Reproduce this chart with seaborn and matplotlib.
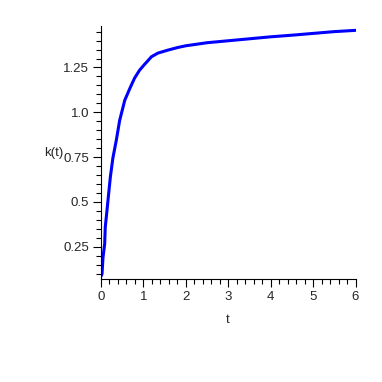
import matplotlib
matplotlib.use("Agg")
import matplotlib.pyplot as plt
import seaborn as sns
import pandas as pd
from matplotlib.ticker import MultipleLocator, FixedLocator

t_vals = [0, 0.024, 0.047, 0.087, 0.10, 0.14, 0.18, 0.22, 0.28, 0.36, 0.44, 0.56,
          0.68, 0.79, 0.91, 1.0, 1.19, 1.34, 1.58, 1.82, 2.0, 2.5, 3.0, 3.5, 4.0,
          4.5, 5.0, 5.5, 6.0]
k_vals = [0.085, 0.098, 0.19, 0.267, 0.358, 0.45, 0.545, 0.638, 0.745, 0.843, 0.955,
          1.067, 1.133, 1.19, 1.235, 1.26, 1.31, 1.33, 1.347, 1.362, 1.371, 1.388,
          1.399, 1.41, 1.421, 1.43, 1.44, 1.45, 1.457]
x_ticks = [0, 1, 2, 3, 4, 5, 6]
x_labels = ["0", "1", "2", "3", "4", "5", "6"]
y_ticks = [0.25, 0.5, 0.75, 1.0, 1.25]
y_labels = ["0.25", "0.5", "0.75", "1.0", "1.25"]

sns.set_style("white")
plt.rcParams['font.family'] = ['Liberation Sans', 'DejaVu Sans']

df = pd.DataFrame({"t": t_vals, "k": k_vals})

fig = plt.figure(figsize=(3.82, 3.82), dpi=100)
W = H = 382
ax = fig.add_axes([101 / W, 1 - 279 / H, (355.5 - 101) / W, (279 - 25.7) / H])

sns.lineplot(data=df, x="t", y="k", ax=ax, color=(0, 0, 1), linewidth=2.2,
             estimator=None, sort=False)

ax.set_xlim(0, 6)
ax.set_ylim(0.07, 1.483)

for s in ["top", "right"]:
    ax.spines[s].set_visible(False)
for s in ["left", "bottom"]:
    ax.spines[s].set_color("black")
    ax.spines[s].set_linewidth(0.8)

ax.xaxis.set_major_locator(FixedLocator(x_ticks))
ax.set_xticklabels(x_labels)
ax.xaxis.set_minor_locator(MultipleLocator(0.2))
ax.yaxis.set_major_locator(FixedLocator(y_ticks))
ax.set_yticklabels(y_labels)
ax.yaxis.set_minor_locator(MultipleLocator(0.05))

ax.tick_params(axis="both", which="major", direction="out", length=6, width=0.8,
               color="black", labelsize=9.5, pad=2.5, bottom=True, left=True)
ax.tick_params(axis="both", which="minor", direction="out", length=3.5, width=0.8,
               color="black", bottom=True, left=True)

ax.set_xlabel("")
ax.set_ylabel("")
fig.text(54 / W, 1 - 153 / H, "k(t)", ha="center", va="center", fontsize=9.5)
fig.text(228 / W, 1 - 320 / H, "t", ha="center", va="center", fontsize=9.5)

fig.savefig("out.png", dpi=100)
